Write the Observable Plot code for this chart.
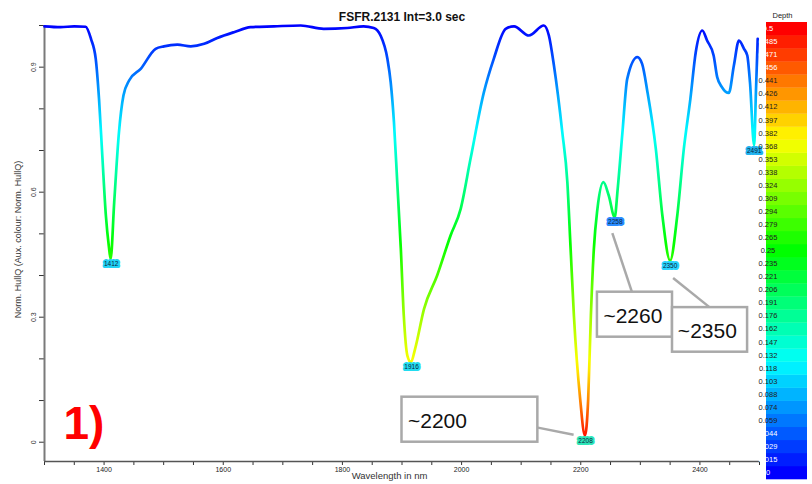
<!DOCTYPE html>
<html><head><meta charset="utf-8">
<script src="https://cdn.jsdelivr.net/npm/d3@7"></script>
<script src="https://cdn.jsdelivr.net/npm/@observablehq/plot@0.6"></script>
<style>body{margin:0;background:#fff} svg{display:block}</style>
</head><body><div id="chart"></div>
<script>
// ---- data ----
const wavelength = [1300,1327,1350,1369,1378,1386,1391.5,1397,1403,1408,1411,1417,1425,1432.5,1442,1461.5,1486.5,1500.5,1523,1545.5,1568,1590,1618,1646,1685,1730,1768.5,1808,1835.5,1852.5,1864,1875.5,1881,1886.5,1892,1898,1903,1909,1915,1922,1937,1959,1981.5,1998.5,2015,2037.5,2054,2074,2088,2113,2138,2146.5,2155,2169,2177.5,2183,2188.5,2199,2207,2212.5,2217,2222,2228,2238,2247,2257,2262,2270,2278,2295,2303,2312,2326,2337,2350,2362,2373,2384,2393,2404,2412,2423,2429,2437,2448.5,2457,2465.5,2474,2479.5,2484,2491,2494,2497];
const hullQ = [0.998,0.996,0.998,0.997,0.968,0.920,0.824,0.688,0.544,0.470,0.440,0.576,0.744,0.832,0.868,0.896,0.944,0.950,0.954,0.950,0.956,0.970,0.984,0.996,0.998,1.0,0.992,0.994,0.998,0.994,0.976,0.920,0.864,0.768,0.624,0.465,0.304,0.208,0.192,0.224,0.320,0.400,0.496,0.560,0.680,0.840,0.920,0.992,0.998,0.976,1.0,0.976,0.904,0.744,0.624,0.464,0.304,0.104,0.016,0.104,0.304,0.464,0.560,0.624,0.592,0.540,0.608,0.744,0.872,0.924,0.908,0.840,0.704,0.544,0.436,0.544,0.704,0.824,0.936,0.988,0.964,0.928,0.876,0.852,0.838,0.904,0.964,0.944,0.928,0.864,0.712,0.840,0.968];

const peakWavelength = [1412, 1916, 2208, 2258, 2350, 2491];
const peakValue = [0.440, 0.192, 0.016, 0.540, 0.436, 0.712];
const peakLabel = ["1412", "1916", "2208", "2258", "2350", "2491"];

const annotationText = ["~2200", "~2260", "~2350"];

const xTickLabels = [1400, 1600, 1800, 2000, 2200, 2400];
const yTickLabels = [0, 0.3, 0.6, 0.9];
const depthLabels = ["0","0.015","0.029","0.044","0.059","0.074","0.088","0.103","0.118","0.132","0.147","0.162","0.176","0.191","0.206","0.221","0.235","0.25","0.265","0.279","0.294","0.309","0.324","0.338","0.353","0.368","0.382","0.397","0.412","0.426","0.441","0.456","0.471","0.485","0.5"];

// ---- styling / layout ----
const peakFill = ["#22d3f5", "#22dcf0", "#2ee6b8", "#2a8cff", "#28d4ff", "#22b4f0"];
const annotationLayout = [
  {x1: 1900, x2: 2128, y1: 0.0, y2: 0.108, tx: 1910, ty: 0.050, lx1: 2128, ly1: 0.035, lx2: 2188, ly2: 0.018},
  {x1: 2228, x2: 2354, y1: 0.252, y2: 0.36, tx: 2238, ty: 0.302, lx1: 2286, ly1: 0.36, lx2: 2253, ly2: 0.502},
  {x1: 2354, x2: 2480, y1: 0.216, y2: 0.323, tx: 2363, ty: 0.266, lx1: 2417, ly1: 0.323, lx2: 2355, ly2: 0.394}
];
const yMin = -0.0463;
const FONT = "'Liberation Sans', Arial, Helvetica, sans-serif";

const spectrum = wavelength.map((w, i) => ({w, v: hullQ[i]}));
const peaks = peakWavelength.map((w, i) => ({w, v: peakValue[i], label: peakLabel[i], fill: peakFill[i]}));
const annotations = annotationText.map((t, i) => ({text: t, ...annotationLayout[i]}));

const depthOf = d3.scaleLinear().domain([0, 0.19, 0.44, 1]).range([0.5, 0.375, 0.27, 0]).clamp(true);
const depthColor = d => d3.hsl(240 * (1 - d / 0.5), 1, 0.5).formatHex();

const chart = Plot.plot({
  width: 812, height: 484,
  marginLeft: 44, marginRight: 53, marginTop: 25, marginBottom: 23,
  x: {domain: [1300, 2500]},
  y: {domain: [yMin, 1]},
  color: {type: "identity"},
  style: {fontFamily: FONT, background: "white", color: "#222", overflow: "visible"},
  marks: [
    Plot.axisX({ticks: d3.range(1300, 2501, 50), tickSize: 4, tickPadding: 2, fontSize: 7,
      tickFormat: d => xTickLabels.includes(d) ? String(d) : "", label: null, stroke: "#333"}),
    Plot.axisY({ticks: d3.range(0, 11).map(i => i / 10), tickSize: 5, tickFormat: () => "", label: null, stroke: "#333"}),
    Plot.text(yTickLabels, {y: d => d, text: d => String(d), frameAnchor: "left", textAnchor: "middle", dx: -10.5, rotate: -90, fontSize: 7, fill: "#333"}),
    Plot.ruleX([1300], {y1: yMin, y2: 1, stroke: "#7a7a7a", strokeWidth: 2}),
    Plot.ruleY([yMin], {x1: 1300, x2: 2500, stroke: "#555", strokeWidth: 1.5}),
    Plot.line(spectrum, {x: "w", y: "v", stroke: "url(#depthGrad)", strokeWidth: 2.7, curve: "monotone-x"}),
    Plot.link(annotations, {x1: "lx1", y1: "ly1", x2: "lx2", y2: "ly2", stroke: "#a9a9a9", strokeWidth: 2.5}),
    Plot.rect(annotations, {x1: "x1", x2: "x2", y1: "y1", y2: "y2", fill: "white", stroke: "#a9a9a9", strokeWidth: 2.5}),
    Plot.text(annotations, {x: "tx", y: "ty", text: "text", textAnchor: "start", fontSize: 21, fill: "#111"}),
    Plot.text(peaks, {x: "w", y: "v", text: "label", dy: 5, fontSize: 6.5, fill: "#0b2540",
      stroke: "fill", strokeWidth: 4, strokeLinejoin: "round", paintOrder: "stroke"}),
    Plot.text(["FSFR.2131 Int=3.0 sec"], {frameAnchor: "top", dy: -13, fontWeight: "bold", fontSize: 12, fill: "#111"}),
    Plot.text(["Wavelength in nm"], {frameAnchor: "bottom", dx: -12.5, dy: 17, fontSize: 9.5, fill: "#333"}),
    Plot.text(["Norm. HullQ (Aux. colour: Norm. HullQ)"], {frameAnchor: "left", textAnchor: "middle", dx: -26, dy: -4, rotate: -90, fontSize: 9, fill: "#333"}),
    Plot.text(["1)"], {frameAnchor: "bottom-left", dx: 19, dy: -23, textAnchor: "start", lineAnchor: "bottom", fontSize: 46, fontWeight: "bold", fill: "#ff0000"})
  ]
});

document.getElementById("chart").appendChild(chart);

// gradient for the line: colour follows the value (depth palette)
const ys = chart.scale("y");
const svg = d3.select(chart);
const defs = svg.insert("defs", ":first-child");
const grad = defs.append("linearGradient").attr("id", "depthGrad")
  .attr("gradientUnits", "userSpaceOnUse")
  .attr("x1", 0).attr("x2", 0).attr("y1", ys.apply(1)).attr("y2", ys.apply(0));
d3.range(0, 41).forEach(i => {
  const t = i / 40;
  grad.append("stop").attr("offset", t).attr("stop-color", depthColor(depthOf(1 - t)));
});

// colour bar legend "Depth"
const cbX = 766, cbW = 41, cbTop = 22, cbBottom = 479;
const n = depthLabels.length;
const cellH = (cbBottom - cbTop) / n;
const cb = svg.append("g").attr("font-family", FONT);
depthLabels.forEach((lab, i) => {
  const d = i / (n - 1) * 0.5;
  const yTop = cbBottom - (i + 1) * cellH;
  cb.append("rect").attr("x", cbX).attr("y", yTop).attr("width", cbW).attr("height", cellH + 0.3)
    .attr("fill", depthColor(d));
  cb.append("text").attr("x", cbX + 2).attr("y", yTop + cellH / 2).attr("dy", "0.35em")
    .attr("font-size", 7.5)
    .attr("fill", (i <= 3 || i >= n - 4) ? "#ffffff" : "#222")
    .text(lab);
});
cb.append("text").attr("x", cbX + cbW / 2 - 4).attr("y", 17.5).attr("text-anchor", "middle")
  .attr("font-size", 7.5).attr("fill", "#222").text("Depth");
</script>
</body></html>
